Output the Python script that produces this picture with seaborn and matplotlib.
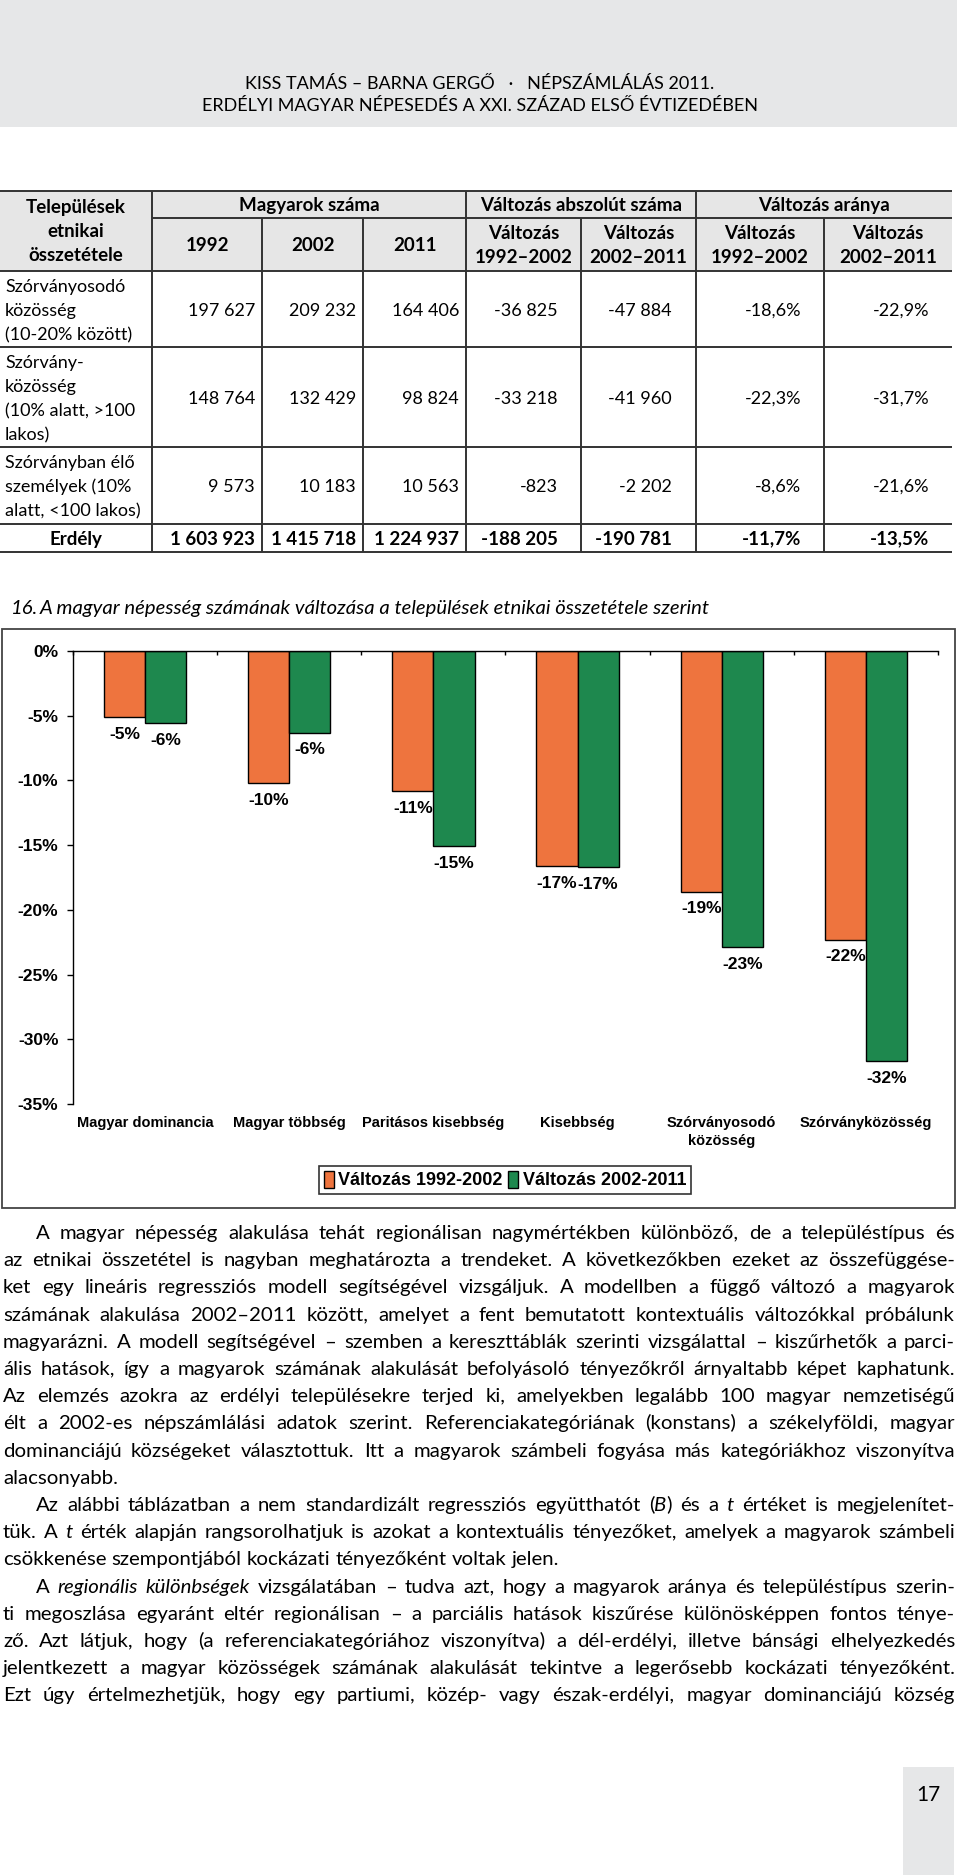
from math import floor
import numpy as np
import pandas as pd
import matplotlib
matplotlib.use("Agg")
import matplotlib.pyplot as plt
from matplotlib import font_manager
from matplotlib.patches import Rectangle, Patch
import seaborn as sns

# chart data (percent change)
categories = ["Magyar dominancia", "Magyar többség", "Paritásos kisebbség",
              "Kisebbség", "Szórványosodó\nközösség", "Szórványközösség"]
periods = ["Változás 1992-2002", "Változás 2002-2011"]
change_1992_2002 = [-5.1, -10.2, -10.8, -16.6, -18.6, -22.3]
change_2002_2011 = [-5.6, -6.3, -15.1, -16.7, -22.9, -31.7]
bar_colors = ["#EE743E", "#1E884E"]
y_ticks = [0, -5, -10, -15, -20, -25, -30, -35]

# table data
row_names = [["Szórványosodó", "közösség", "(10-20% között)"],
             ["Szórvány-", "közösség", "(10% alatt, >100", "lakos)"],
             ["Szórványban élő", "személyek (10%", "alatt, <100 lakos)"]]
total_name = "Erdély"
pop_1992 = ["197 627", "148 764", "9 573", "1 603 923"]
pop_2002 = ["209 232", "132 429", "10 183", "1 415 718"]
pop_2011 = ["164 406", "98 824", "10 563", "1 224 937"]
abs_92_02 = ["-36 825", "-33 218", "-823", "-188 205"]
abs_02_11 = ["-47 884", "-41 960", "-2 202", "-190 781"]
rel_92_02 = ["-18,6%", "-22,3%", "-8,6%", "-11,7%"]
rel_02_11 = ["-22,9%", "-31,7%", "-21,6%", "-13,5%"]
group_heads = ["Magyarok száma", "Változás abszolút száma", "Változás aránya"]
sub_heads = ["1992", "2002", "2011", "Változás\n1992–2002", "Változás\n2002–2011",
             "Változás\n1992–2002", "Változás\n2002–2011"]
corner_head = ["Települések", "etnikai", "összetétele"]

header_lines = ["KISS TAMÁS – BARNA GERGŐ   ·   NÉPSZÁMLÁLÁS 2011.",
                "ERDÉLYI MAGYAR NÉPESEDÉS A XXI. SZÁZAD ELSŐ ÉVTIZEDÉBEN"]
caption_num = "16."
caption = "A magyar népesség számának változása a települések etnikai összetétele szerint"

# body text, one entry per printed line: (text, indent, justified); *x* = italic
body = [
    ("A magyar népesség alakulása tehát regionálisan nagymértékben különböző, de a településtípus és", True, True),
    ("az etnikai összetétel is nagyban meghatározta a trendeket. A következőkben ezeket az összefüggése-", False, True),
    ("ket egy lineáris regressziós modell segítségével vizsgáljuk. A modellben a függő változó a magyarok", False, True),
    ("számának alakulása 2002–2011 között, amelyet a fent bemutatott kontextuális változókkal próbálunk", False, True),
    ("magyarázni. A modell segítségével – szemben a kereszttáblák szerinti vizsgálattal – kiszűrhetők a parci-", False, True),
    ("ális hatások, így a magyarok számának alakulását befolyásoló tényezőkről árnyaltabb képet kaphatunk.", False, True),
    ("Az elemzés azokra az erdélyi településekre terjed ki, amelyekben legalább 100 magyar nemzetiségű", False, True),
    ("élt a 2002-es népszámlálási adatok szerint. Referenciakategóriának (konstans) a székelyföldi, magyar", False, True),
    ("dominanciájú községeket választottuk. Itt a magyarok számbeli fogyása más kategóriákhoz viszonyítva", False, True),
    ("alacsonyabb.", False, False),
    ("Az alábbi táblázatban a nem standardizált regressziós együtthatót (*B*) és a *t* értéket is megjelenítet-", True, True),
    ("tük. A *t* érték alapján rangsorolhatjuk is azokat a kontextuális tényezőket, amelyek a magyarok számbeli", False, True),
    ("csökkenése szempontjából kockázati tényezőként voltak jelen.", False, False),
    ("A *regionális* *különbségek* vizsgálatában – tudva azt, hogy a magyarok aránya és településtípus szerin-", True, True),
    ("ti megoszlása egyaránt eltér regionálisan – a parciális hatások kiszűrése különösképpen fontos ténye-", False, True),
    ("ző. Azt látjuk, hogy (a referenciakategóriához viszonyítva) a dél-erdélyi, illetve bánsági elhelyezkedés", False, True),
    ("jelentkezett a magyar közösségek számának alakulását tekintve a legerősebb kockázati tényezőként.", False, True),
    ("Ezt úgy értelmezhetjük, hogy egy partiumi, közép- vagy észak-erdélyi, magyar dominanciájú község", False, True),
]
page_number = "17"

names = {f.name for f in font_manager.fontManager.ttflist}
BODY = "Lato" if "Lato" in names else "DejaVu Sans"
NARROW = "Liberation Sans Narrow" if "Liberation Sans Narrow" in names else BODY
CHART = "Liberation Sans" if "Liberation Sans" in names else "DejaVu Sans"
plt.rcParams["font.family"] = [BODY, "DejaVu Sans"]

W, H = 960, 1875
fig = plt.figure(figsize=(W / 100, H / 100), dpi=100)
page = fig.add_axes([0, 0, 1, 1])
page.set_xlim(0, W)
page.set_ylim(H, 0)
page.axis("off")
renderer = fig.canvas.get_renderer()


def width_of(t):
    return t.get_window_extent(renderer).width


def measure(s, size, **kw):
    t = page.text(0, 0, s, fontsize=size, **kw)
    w = width_of(t)
    t.remove()
    return w


def put(x, y, s, size, ha="left", **kw):
    # y is the visual middle of the line; baseline snapped to a whole pixel
    base = round(y + 0.29 * size * 100 / 72)
    t = page.text(x, base, s, ha=ha, va="baseline", fontsize=size, **kw)
    _, h, d = renderer.get_text_width_height_descent(s, t.get_fontproperties(), ismath=False)
    t.set_y(base + floor(h) - floor(h - d) - d)
    return t


# page header
page.add_patch(Rectangle((0, 0), 957, 127, color="#e6e7e8", lw=0))
hs = 14 * 557 / measure(header_lines[1], 14, family=NARROW)
put(480, 84, header_lines[0], hs, ha="center", family=NARROW)
put(480, 106, header_lines[1], hs, ha="center", family=NARROW)

# table
col_x = [0, 152, 262, 363, 466, 581, 696, 824, 952]
tab_top, grp_bot, head_bot = 191, 218, 271
row_bot = [347, 447, 524, 552]
line_kw = dict(color="#333333", lw=1.4, solid_capstyle="butt")
page.add_patch(Rectangle((0, tab_top), 952, head_bot - tab_top, color="#e6e6e6", lw=0))
page.plot([0, 952], [tab_top, tab_top], **line_kw)
page.plot([152, 952], [grp_bot, grp_bot], **line_kw)
for y in [head_bot] + row_bot:
    page.plot([0, 952], [y, y], **line_kw)
for x in [152, 466, 696]:
    page.plot([x, x], [tab_top, row_bot[-1]], **line_kw)
for x in [262, 363, 581, 824]:
    page.plot([x, x], [grp_bot, row_bot[-1]], **line_kw)

bold_size = min(13.5, 14 * 214 / measure(group_heads[1], 14, weight="bold"))
put(309, 206, group_heads[0], bold_size, ha="center", weight="bold")
put(581, 206, group_heads[1], bold_size, ha="center", weight="bold")
put(824, 206, group_heads[2], bold_size, ha="center", weight="bold")
for i, s in enumerate(corner_head):
    put(76, 208 + 24 * i, s, bold_size, ha="center", weight="bold")
for i, s in enumerate(sub_heads):
    cx = (col_x[i + 1] + col_x[i + 2]) / 2
    parts = s.split("\n")
    if len(parts) == 1:
        put(cx, 246, s, bold_size, ha="center", weight="bold")
    else:
        put(cx, 234, parts[0], bold_size, ha="center", weight="bold")
        put(cx, 258, parts[1], bold_size, ha="center", weight="bold")

reg_size = 13
row_tops = [head_bot] + row_bot[:-1]
right_edges = [255, 356, 459, 558, 672, 801, 929]
columns = [pop_1992, pop_2002, pop_2011, abs_92_02, abs_02_11, rel_92_02, rel_02_11]
for r in range(4):
    cy = (row_tops[r] + row_bot[r]) / 2 + 1.5
    if r < 3:
        n = len(row_names[r])
        for k, s in enumerate(row_names[r]):
            put(5, cy + (k - (n - 1) / 2) * 24, s, reg_size)
        for c, vals in enumerate(columns):
            put(right_edges[c], cy, vals[r], reg_size, ha="right")
    else:
        put(76, cy, total_name, bold_size, ha="center", weight="bold")
        for c, vals in enumerate(columns):
            put(right_edges[c], cy, vals[r], bold_size, ha="right", weight="bold")

# figure caption and frame
cs = 13 * 667 / measure(caption, 13, style="italic")
put(40, 608, caption, cs, style="italic")
put(11, 608, caption_num, cs, style="italic")
page.add_patch(Rectangle((2, 629), 953, 579, fill=False, edgecolor="#444444", lw=1.3))

# bar chart
df = pd.DataFrame({
    "category": categories * 2,
    "period": [periods[0]] * len(categories) + [periods[1]] * len(categories),
    "value": change_1992_2002 + change_2002_2011,
})
ax = fig.add_axes([73 / W, 1 - 1104 / H, 865 / W, 453 / H])
ax.patch.set_alpha(0)
sns.barplot(data=df, x="category", y="value", hue="period", order=categories,
            hue_order=periods, palette=bar_colors, width=0.57, saturation=1,
            edgecolor="black", linewidth=1.0, errorbar=None, legend=False, ax=ax)
ax.set_ylim(-35, 0)
ax.set_xlim(-0.5, 5.5)
ax.set_xlabel("")
ax.set_ylabel("")
ax.set_yticks(y_ticks)
ax.set_yticklabels([f"{v}%" for v in y_ticks], family=CHART, weight="bold", fontsize=12.5)
ax.set_xticks(range(len(categories)))
ax.set_xticklabels(categories, family=CHART, weight="bold", fontsize=10.5, linespacing=1.35)
ax.set_xticks(np.arange(-0.5, len(categories)), minor=True)
ax.tick_params(axis="y", direction="out", length=4.5, width=1, pad=6, colors="black")
ax.tick_params(axis="x", which="major", length=0, pad=9, bottom=True, top=False)
ax.tick_params(axis="x", which="minor", top=True, bottom=False, direction="in", length=3, width=1)
for side in ["bottom", "right"]:
    ax.spines[side].set_visible(False)
for side in ["top", "left"]:
    ax.spines[side].set_color("black")
    ax.spines[side].set_linewidth(1.0)

for cont, vals in zip(ax.containers, [change_1992_2002, change_2002_2011]):
    ax.bar_label(cont, labels=[f"{v:.0f}%" for v in vals], padding=7,
                 fontsize=12.5, fontweight="bold", family=CHART)

handles = [Patch(facecolor=c, edgecolor="black", lw=1) for c in bar_colors]
leg = fig.legend(handles, periods, loc="center", bbox_to_anchor=(505 / W, 1 - 1180 / H),
                 ncol=2, frameon=True, fancybox=False, edgecolor="#333333", framealpha=1,
                 handlelength=0.55, handleheight=1.1, handletextpad=0.25, columnspacing=0.3,
                 borderpad=0.25, borderaxespad=0,
                 prop=dict(family=CHART, weight="bold", size=13))
leg.get_frame().set_linewidth(1.2)

# body text, justified by hand
x_left, x_right, indent = 3, 955, 33


def parse(line):
    words = []
    for tok in line.split(" "):
        parts = tok.split("*")
        words.append([(p, i % 2 == 1) for i, p in enumerate(parts) if p])
    return words


def word_widths(words, size):
    return [sum(measure(txt, size, family=BODY, style="italic" if it else "normal")
                for txt, it in segs) for segs in words]


test_size = 14
space_test = measure("x x", test_size, family=BODY) - measure("xx", test_size, family=BODY)
ratio = 1.05
for text, ind, just in body:
    ww = word_widths(parse(text), test_size)
    nat = sum(ww) + space_test * (len(ww) - 1)
    avail = x_right - x_left - (indent if ind else 0)
    ratio = min(ratio, 0.995 * avail / nat)
body_size = test_size * ratio
space_w = space_test * ratio

for i, (text, ind, just) in enumerate(body):
    y = 1233 + 27.2 * i
    words = parse(text)
    x0 = x_left + (indent if ind else 0)
    placed = []
    for segs in words:
        wa = []
        for txt, it in segs:
            t = put(0, y, txt, body_size, family=BODY, style="italic" if it else "normal")
            wa.append((t, width_of(t)))
        placed.append(wa)
    total = sum(w for wa in placed for _, w in wa)
    gap = (x_right - x0 - total) / (len(placed) - 1) if just and len(placed) > 1 else space_w
    x = x0
    for wa in placed:
        for t, w in wa:
            t.set_x(x)
            x += w
        x += gap

# page number tab
page.add_patch(Rectangle((903, 1767), 51, 108, color="#e6e7e8", lw=0))
put(928, 1795, page_number, 15, ha="center", family=BODY)

fig.savefig("out.png", dpi=100, facecolor="white")
